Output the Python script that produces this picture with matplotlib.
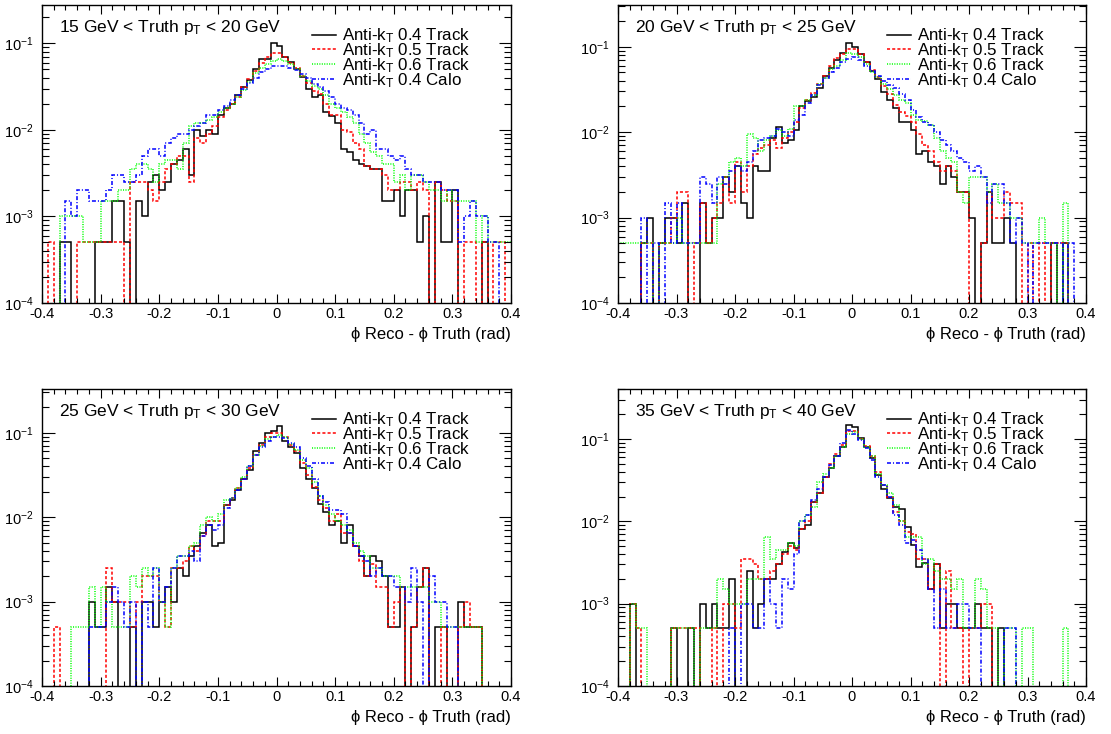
import numpy as np
import matplotlib
matplotlib.use("Agg")
import matplotlib.pyplot as plt
from matplotlib.ticker import MultipleLocator, LogLocator, FuncFormatter, NullFormatter

plt.rcParams['font.family'] = ['Liberation Sans', 'DejaVu Sans']
plt.rcParams['mathtext.fontset'] = 'custom'
plt.rcParams['mathtext.rm'] = 'Liberation Sans'
plt.rcParams['mathtext.it'] = 'Liberation Sans:italic'
plt.rcParams['mathtext.bf'] = 'Liberation Sans:bold'
plt.rcParams['axes.unicode_minus'] = False

# 80 bins of phi_reco - phi_truth between -0.4 and 0.4 rad
bin_edges = np.linspace(-0.4, 0.4, 81)
UNIT = 1e-3  # bin contents below are given in units of 1e-3 (normalised)

series_labels = [r"Anti-k$_{\mathrm{T}}$ 0.4 Track", r"Anti-k$_{\mathrm{T}}$ 0.5 Track",
                 r"Anti-k$_{\mathrm{T}}$ 0.6 Track", r"Anti-k$_{\mathrm{T}}$ 0.4 Calo"]
pt_bins = [(15, 20), (20, 25), (25, 30), (35, 40)]

# ---- 15 < pT < 20 GeV
p1_k4_track = [0, 0, 0, 0.5, 0.5, 0, 0, 0, 0, 0.5,
               0.5, 0.5, 1.5, 1.5, 0.5, 0, 1.5, 1.0, 2.5, 3.0,
               2.0, 2.5, 4.0, 4.5, 6.0, 3.0, 10, 8.5, 10, 9,
               15, 18, 20, 25, 31, 38, 50, 65, 66, 100,
               92, 69, 61, 51, 41, 30, 24, 25, 16, 14.5,
               12, 6, 5.5, 4.5, 4, 3.8, 3.5, 3.5, 1.5, 1.5,
               2, 1, 2, 2, 0.5, 1, 0, 2.5, 0.5, 0.5,
               2, 0, 0, 0, 0, 0.5, 0, 0, 0, 0]
p1_k5_track = [0, 0.5, 0, 0, 0, 0, 0.5, 0.5, 0.5, 0.5,
               0.5, 0.5, 0.5, 0.5, 0, 2.5, 2.5, 2.5, 2.0, 1.5,
               2.5, 3.5, 4, 5, 5, 2.5, 8, 7, 9, 11,
               14, 17, 20, 24, 31, 39, 48, 60, 70, 78,
               78, 70, 60, 52, 42, 35, 28, 26, 20, 15,
               15, 10, 9.5, 7, 6, 3.8, 3.5, 3.5, 3, 2,
               2, 2.5, 2.5, 2.0, 2.5, 2.0, 0, 2.5, 2.0, 1.5,
               1.5, 0, 0.5, 0.5, 0, 0.5, 0, 0.5, 0.5, 0]
p1_k6_track = [0, 0, 0, 1.0, 1.0, 1.0, 1.0, 0.5, 0.5, 0.5,
               1.5, 1.5, 1.5, 2.0, 2.0, 3.5, 4, 4, 3.5, 2.5,
               4, 4.5, 4.5, 3.5, 7, 11, 12, 12, 13, 14,
               16, 18, 20, 24, 29, 36, 45, 52, 58, 62,
               65, 62, 57, 50, 42, 37, 32, 30, 25, 20,
               18, 16, 14, 12, 9, 7, 5.5, 5, 4, 4,
               2.5, 3.0, 2.0, 3.0, 3.0, 2.5, 2.0, 2.0, 1.5, 2.0,
               1.5, 1.5, 1.5, 1.5, 0.5, 1.0, 0.5, 0.5, 0.5, 0.5]
p1_k4_calo = [0, 0, 0, 0, 1.5, 1.0, 2.0, 2.0, 1.5, 1.5,
              1.5, 2.0, 3, 3, 2.5, 2.5, 3, 5, 6, 6,
              5, 7, 8, 9, 9, 10, 11, 12, 15, 15,
              17, 19, 22, 25, 30, 35, 40, 47, 50, 54,
              55, 54, 52, 49, 44, 40, 34, 31, 28, 24,
              20, 18, 17, 15, 12, 9, 10, 6, 6, 5,
              4.5, 5, 3.5, 3, 3, 2.5, 2.5, 2.5, 2, 2.0,
              2.0, 0.5, 1, 1.5, 1.0, 1.0, 0.5, 0.5, 0, 0]

# ---- 20 < pT < 25 GeV
p2_k4_track = [0, 0, 0, 0, 0.5, 1.0, 0, 0.5, 1.0, 1.0,
               0.5, 1.5, 0, 0, 1.5, 0.5, 1.0, 1.0, 3.0, 2.0,
               4.0, 1.5, 1.0, 4.0, 3.5, 3.5, 8.5, 11.5, 7.5, 8,
               10.5, 20, 23, 26, 33, 45, 56, 70, 85, 111,
               100, 83, 67, 52, 42, 29.5, 24, 19, 13, 13,
               10.5, 5.5, 6, 4.5, 4, 2.5, 4, 3, 2, 2,
               1, 0, 0.5, 2, 0.5, 0.5, 1, 0.5, 0, 0,
               0, 0, 0, 0, 0.5, 0, 0.5, 0, 0, 0]
p2_k5_track = [0, 0, 0, 0, 0.5, 0.5, 0, 0.5, 0.5, 1.0,
               2.0, 2.0, 0, 0.5, 1.5, 0.5, 1.0, 1.5, 3.0, 1.5,
               4.5, 2.0, 4.0, 5.5, 6.5, 7, 8, 6.5, 8.5, 10,
               13, 19, 24, 29, 37, 46, 60, 74, 82, 95,
               93, 82, 66, 54, 44, 35, 28, 21, 17, 15.5,
               13, 9.5, 7, 6, 4.5, 3.5, 4, 3.5, 2, 2,
               0, 0, 0.5, 2.0, 1.0, 1.0, 2.0, 1.5, 1.5, 0,
               0.5, 0, 0.5, 0, 0.5, 0.5, 0.5, 0, 0, 0]
p2_k6_track = [0.5, 0.5, 0.5, 0.5, 0.5, 0.5, 0, 0.5, 0.5, 0.5,
               1.0, 0.5, 0.5, 0.5, 0.5, 0.5, 0.5, 2.5, 3.0, 4.5,
               5.0, 4.0, 9.5, 8.5, 6.0, 8.0, 9, 10.5, 9, 11,
               20, 20, 24, 27, 37, 43, 55, 60, 70, 85,
               82, 76, 63, 50, 44, 37, 32, 27, 24, 22,
               16, 14, 13.5, 12, 8.5, 6, 5, 4.5, 2, 1.5,
               3.0, 3.0, 3.0, 2.0, 2.5, 1.5, 1.5, 1.0, 1.0, 0.5,
               0.5, 0.5, 1.0, 0.5, 0.5, 0, 1.5, 0, 0, 0]
p2_k4_calo = [0, 0, 0, 0, 1.0, 0, 0.5, 0, 1.5, 0.5,
              1.5, 0.5, 0.5, 0.5, 3.0, 2.5, 1.5, 3.0, 2.5, 3.5,
              4.0, 3.5, 4.5, 6.0, 8.0, 8.5, 9, 11, 10, 9,
              14, 16, 22, 27, 36, 43, 50, 57, 67, 72,
              75, 70, 60, 52, 45, 40, 36, 33, 28, 24,
              18, 15, 13, 12, 10, 8, 7, 6, 5, 4.5,
              3.5, 4, 3.0, 1.5, 2.5, 2.5, 1.5, 0.5, 1.0, 0.5,
              0, 0.5, 0.5, 0.5, 0.5, 0.5, 0, 0.5, 0, 0]

# ---- 25 < pT < 30 GeV
p3_k4_track = [0, 0, 0, 0, 0, 0, 0, 0, 1.0, 0.5,
               0.5, 1.5, 1.0, 0, 0, 0.5, 0, 1.0, 1.0, 0.5,
               1.0, 1.5, 1.0, 2.5, 2.0, 3.5, 4.5, 6.5, 8, 4.5,
               5, 14, 16, 21, 28, 36, 60, 75, 100, 105,
               120, 80, 68, 58, 38, 28, 22, 14.5, 11.5, 8,
               9, 5, 8, 4.5, 3.5, 2, 3.5, 3, 2, 0.5,
               0.5, 1.5, 0, 0.5, 1.5, 2.5, 0, 0.5, 0.5, 0,
               0, 1.0, 0.5, 0.5, 0.5, 0, 0, 0, 0, 0]
p3_k5_track = [0, 0, 0.5, 0, 0, 0, 0, 0, 0, 0,
               0, 2.5, 1.0, 1.0, 1.0, 0.5, 1.0, 2.0, 2.0, 2.0,
               1.0, 0.5, 2.5, 2.5, 3.0, 4.5, 4.0, 6, 9, 9,
               9, 14, 17, 22, 28, 38, 55, 72, 90, 100,
               100, 90, 72, 60, 44, 32, 23, 16, 13, 9,
               11, 6.5, 6.5, 4.5, 3, 2.0, 2.8, 1.5, 1.5, 0.5,
               1.0, 1.5, 0, 0.5, 1.5, 2.5, 0, 0, 0.5, 0,
               0, 0.5, 1.0, 0.5, 0.5, 0, 0, 0, 0, 0]
p3_k6_track = [0, 0, 0, 0, 0, 0.5, 0.5, 0.5, 1.5, 0.5,
               1.5, 1.0, 0.5, 0.5, 0.5, 2.0, 1.5, 2.5, 2.0, 2.5,
               1.0, 0.5, 2.5, 3.5, 3.5, 4.5, 5, 8, 10, 9,
               11, 16, 17, 22, 30, 40, 55, 70, 85, 90,
               95, 88, 74, 62, 48, 38, 26, 18, 14, 11,
               9, 8, 7, 5, 4, 3.5, 2.5, 2.5, 2.0, 2.0,
               2.0, 1.5, 1.5, 1.5, 1.5, 1.5, 1.0, 1.0, 0.5, 0.5,
               0.5, 0.5, 0.5, 0.5, 0.5, 0, 0, 0, 0, 0]
p3_k4_calo = [0, 0, 0, 0, 0, 0, 0, 0, 0.5, 0.5,
              0.5, 1.0, 1.5, 1.0, 0.5, 1.0, 0, 1.0, 0.5, 2.5,
              1.0, 1.5, 2.5, 3.5, 3.5, 4, 3.0, 6, 8, 7,
              8, 13, 17, 21, 28, 40, 55, 68, 80, 88,
              90, 87, 75, 68, 50, 40, 28, 18, 15, 12,
              12, 11, 6.5, 4.5, 3.5, 3, 2.0, 2.5, 2.0, 2.0,
              1.5, 1.5, 1.0, 2.5, 1.0, 0, 2.0, 1.0, 1.0, 0.5,
              0.5, 0, 0, 0, 0, 0, 0, 0, 0, 0]

# ---- 35 < pT < 40 GeV
p4_k4_track = [0, 0, 1.0, 0, 0, 0, 0, 0, 0, 0.5,
               0, 0, 0.5, 0, 1.0, 0.5, 1.0, 0.5, 0.5, 2.0,
               0, 0, 2.5, 0.5, 1.0, 2.0, 2.0, 3.0, 4.3, 5.5,
               4.8, 8, 9, 17, 22, 35, 45, 62, 80, 148,
               140, 102, 80, 58, 36.6, 25, 19, 15, 14, 8.5,
               5.2, 2.8, 3.1, 1.5, 3, 0.5, 1.0, 1.0, 0.5, 0.5,
               0.5, 1.0, 0.5, 0.5, 0, 0.5, 0, 0, 0, 0,
               0, 0, 0, 0, 0, 0, 0, 0, 0, 0]
p4_k5_track = [0, 0, 1.0, 0.5, 0, 0, 0, 0, 0, 0.5,
               0.5, 0.5, 0.5, 0.5, 0, 0, 0.5, 0, 1.0, 1.0,
               0.5, 3.5, 3.5, 3.0, 2.0, 2.0, 2.5, 3.0, 4.0, 5.0,
               4.5, 8, 10, 17, 22, 35, 50, 65, 85, 125,
               125, 100, 82, 62, 40, 28, 20, 13, 10, 7.5,
               7, 3.5, 3.5, 1.5, 3.0, 0, 2.5, 0.5, 0.5, 0,
               0.5, 0.5, 1.0, 1.0, 0, 0, 0, 0, 0, 0,
               0, 0, 0, 0, 0, 0, 0, 0, 0, 0]
p4_k6_track = [0, 0, 1.0, 0.5, 0.5, 0, 0, 0, 0, 0.5,
               0.5, 0.5, 0.5, 0, 0.5, 0.5, 0.5, 2.0, 1.5, 1.0,
               1.0, 1.0, 2.0, 2.0, 2.0, 6.5, 3.5, 4.5, 4.5, 5.5,
               5.0, 10, 12, 15, 30, 38, 45, 62, 80, 115,
               120, 100, 80, 62, 38, 28, 22, 16, 10, 6.5,
               6.5, 6.5, 3.0, 3.5, 2.5, 2.0, 2.0, 1.5, 2.0, 0.5,
               0.5, 2.0, 1.5, 0.5, 0.5, 0, 0.5, 0.5, 0, 0.5,
               0.5, 0, 0, 0, 0, 0, 0.5, 0, 0, 0]
p4_k4_calo = [0, 0, 0, 0, 0, 0, 0, 0, 0, 0,
              0, 0, 0, 0, 0, 0, 0, 0, 0, 0.5,
              0, 1.0, 1.0, 0.5, 0.5, 2.0, 1.0, 0.5, 2.0, 1.5,
              4.0, 10, 12, 18, 25, 35, 48, 62, 90, 130,
              115, 98, 78, 55, 35, 28, 20, 12, 9, 5.5,
              6, 4.5, 3.5, 1.5, 0.5, 1.5, 0.5, 0.5, 1.0, 1.0,
              0.5, 0.5, 0, 0, 0, 0, 0.5, 0.5, 0, 0,
              0, 0, 0, 0, 0, 0, 0, 0, 0, 0]

panel_series = [
    [p1_k4_track, p1_k5_track, p1_k6_track, p1_k4_calo],
    [p2_k4_track, p2_k5_track, p2_k6_track, p2_k4_calo],
    [p3_k4_track, p3_k5_track, p3_k6_track, p3_k4_calo],
    [p4_k4_track, p4_k5_track, p4_k6_track, p4_k4_calo],
]

# ---- styling / layout
W, H = 1111, 734
LW = 1.1
line_colors = ['#000000', '#ff0000', '#00ff00', '#0000ff']
line_styles = ['-', (0, (2.0, 1.4)), (0, (0.7, 0.9)), (0, (2.6, 1.3, 0.7, 1.3))]
frames_px = [(42, 511, 5, 303), (618, 1086, 5, 303),
             (42, 511, 389, 686), (618, 1086, 389, 686)]
y_top = [0.277, 0.308, 0.33, 0.405]

fig = plt.figure(figsize=(W / 100, H / 100), dpi=100)
fig.patch.set_facecolor('white')


def y_label(v, pos):
    return r"$10^{%d}$" % int(round(np.log10(v)))


def x_label(v, pos):
    if abs(v) < 1e-9:
        return "0"
    return f"{v:.1f}"


for k, (l, r, t, b) in enumerate(frames_px):
    ax = fig.add_axes([l / W, 1 - b / H, (r - l) / W, (b - t) / H])
    ax.set_yscale('log', nonpositive='clip')
    for vals, c, ls in zip(panel_series[k], line_colors, line_styles):
        v = np.asarray(vals, dtype=float) * UNIT
        v = np.where(v > 0, v, 1e-9)
        ax.stairs(v, bin_edges, baseline=None, color=c, linestyle=ls, linewidth=LW)
    ax.set_xlim(-0.4, 0.4)
    ax.set_ylim(1e-4, y_top[k])

    ax.xaxis.set_major_locator(MultipleLocator(0.1))
    ax.xaxis.set_minor_locator(MultipleLocator(0.02))
    ax.xaxis.set_major_formatter(FuncFormatter(x_label))
    ax.yaxis.set_major_locator(LogLocator(base=10, numticks=10))
    ax.yaxis.set_minor_locator(LogLocator(base=10, subs=np.arange(2, 10), numticks=20))
    ax.yaxis.set_major_formatter(FuncFormatter(y_label))
    ax.yaxis.set_minor_formatter(NullFormatter())
    ax.tick_params(which='both', direction='in', top=True, right=True,
                   labelsize=10.5, width=0.8, colors='black')
    ax.tick_params(axis='x', which='major', length=6.5, pad=3)
    ax.tick_params(axis='x', which='minor', length=3.3)
    ax.tick_params(axis='y', which='major', length=9, pad=6)
    ax.tick_params(axis='y', which='minor', length=5)
    for s in ax.spines.values():
        s.set_linewidth(1.0)

    hpx = b - t
    wpx = r - l
    lo, hi = pt_bins[k]
    ax.text(17 / wpx, 1 - 27 / hpx, rf"{lo} GeV < Truth p$_{{\mathrm{{T}}}}$ < {hi} GeV",
            transform=ax.transAxes, fontsize=12.5, ha='left', va='baseline')

    # legend entries
    for j, lab in enumerate(series_labels):
        yc = 1 - (29.5 + 14.8 * j) / hpx
        ax.plot([270 / 469, 294 / 469], [yc, yc], transform=ax.transAxes,
                color=line_colors[j], linestyle=line_styles[j], linewidth=LW,
                clip_on=False)
        ax.text(300 / 469, yc - 6 / hpx, lab, transform=ax.transAxes,
                fontsize=12.2, ha='left', va='baseline')

    ax.set_xlabel("ϕ Reco - ϕ Truth (rad)", fontsize=12, ha='right', x=1.0, labelpad=4)

fig.savefig("out.png", dpi=100, facecolor='white')
